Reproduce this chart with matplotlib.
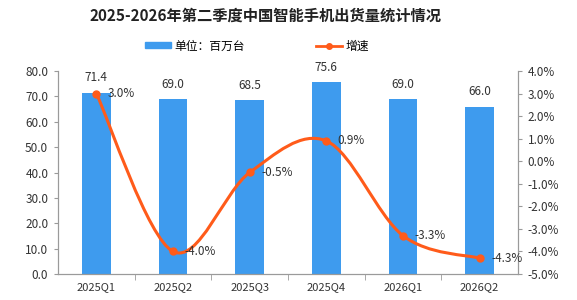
import numpy as np
import matplotlib.pyplot as plt
from matplotlib.path import Path
from matplotlib.patches import PathPatch, Patch
from matplotlib.lines import Line2D

plt.rcParams['font.family'] = ['Noto Sans CJK SC', 'DejaVu Sans']

quarters = ['2025Q1', '2025Q2', '2025Q3', '2025Q4', '2026Q1', '2026Q2']
shipments = [71.4, 69.0, 68.5, 75.6, 69.0, 66.0]
growth = [3.0, -4.0, -0.5, 0.9, -3.3, -4.3]

bar_color = '#3E9BEE'
line_color = '#FF5B1A'
grey = '#9A9A9A'

fig = plt.figure(figsize=(5.77, 3.0), dpi=100)
ax = fig.add_axes([58 / 577, 26 / 300, 460 / 577, 203 / 300])
ax2 = ax.twinx()

x = np.arange(len(quarters))
ax.bar(x, shipments, width=0.37, color=bar_color, zorder=2)
for xi, v in zip(x, shipments):
    ax.text(xi, v + 3.3, f'{v:.1f}', ha='center', va='bottom', fontsize=8.5, color='#333333')

ax.set_xlim(-0.5, len(quarters) - 0.5)
ax.set_ylim(0, 80)
ax.set_yticks(np.arange(0, 81, 10))
ax.set_yticklabels([f'{t:.1f}' for t in np.arange(0, 81, 10)], fontsize=8.5, color='#333333')
ax.set_xticks(x)
ax.set_xticklabels(quarters, fontsize=8, color='#333333')
ax.set_xticks(np.arange(0.5, len(quarters) - 0.5, 1), minor=True)
ax.tick_params(axis='x', which='major', length=0, pad=6)
ax.tick_params(axis='x', which='minor', length=4, color=grey)
ax.tick_params(axis='y', length=3, color=grey, pad=4)

# smooth curve through growth points
pts = np.column_stack([x, growth]).astype(float)
ext = np.vstack([pts[0], pts, pts[-1]])
verts = [tuple(pts[0])]
codes = [Path.MOVETO]
for i in range(len(pts) - 1):
    p0, p1, p2, p3 = ext[i], ext[i + 1], ext[i + 2], ext[i + 3]
    c1 = p1 + (p2 - p0) / 6
    c2 = p2 - (p3 - p1) / 6
    verts += [tuple(c1), tuple(c2), tuple(p2)]
    codes += [Path.CURVE4] * 3
ax2.add_patch(PathPatch(Path(verts, codes), fill=False, edgecolor=line_color, lw=2.2, zorder=3))
ax2.plot(x, growth, 'o', color=line_color, ms=5, zorder=4)
for xi, g in zip(x, growth):
    ax2.text(xi + 0.15, g, f'{g:.1f}%', ha='left', va='center', fontsize=8.5, color='#333333')

ax2.set_ylim(-5, 4)
ax2.set_yticks(np.arange(-5, 5, 1))
ax2.set_yticklabels([f'{t:.1f}%' for t in np.arange(-5, 5, 1)], fontsize=8.5, color='#333333')
ax2.tick_params(axis='y', length=3, color=grey, pad=4)

for a in (ax, ax2):
    a.spines['top'].set_visible(False)
    for s in ('left', 'right', 'bottom'):
        a.spines[s].set_color(grey)
        a.spines[s].set_linewidth(0.8)

fig.text(0.46, 1 - 16 / 300, '2025-2026年第二季度中国智能手机出货量统计情况',
         ha='center', va='center', fontsize=11, fontweight='bold', color='#222222')

handles = [Patch(color=bar_color, label='单位：百万台'),
           Line2D([0], [0], color=line_color, lw=2, marker='o', ms=4, label='增速')]
fig.legend(handles=handles, loc='center', bbox_to_anchor=(0.445, 1 - 46 / 300), ncol=2,
           frameon=False, fontsize=8.5, columnspacing=6, handlelength=2.2,
           handleheight=0.4, handletextpad=0.3)

fig.savefig('out.png', dpi=100)
